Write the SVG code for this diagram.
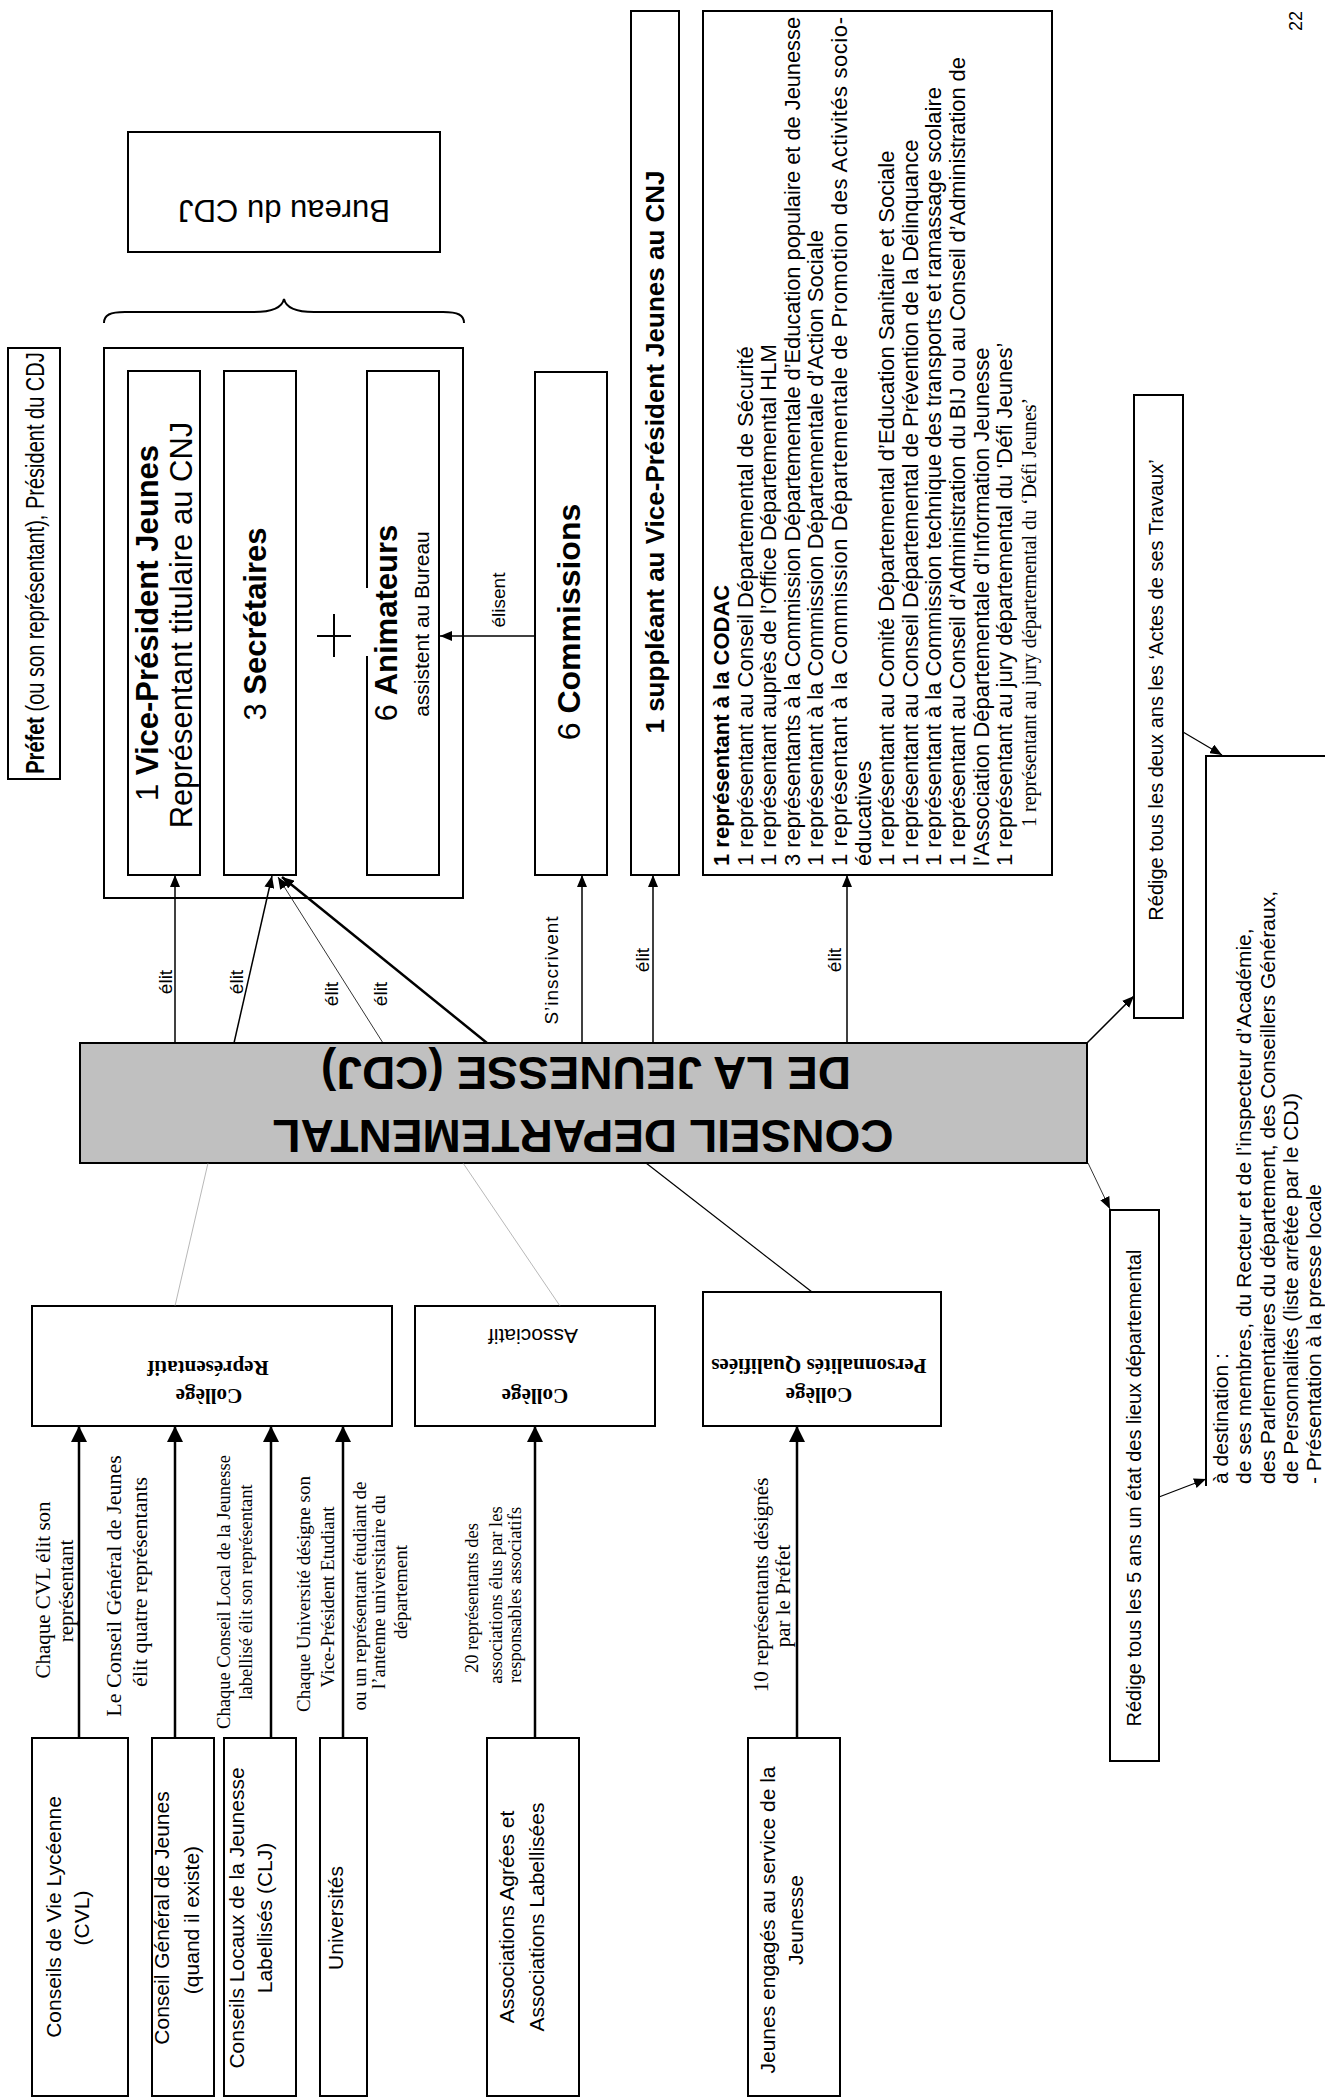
<svg xmlns="http://www.w3.org/2000/svg" width="1325" height="2098" viewBox="0 0 1325 2098">
<style>
.b{fill:#fff;stroke:#000;stroke-width:2}
.s{font-family:"Liberation Sans",Arial,sans-serif;fill:#000}
.t{font-family:"Liberation Serif","Times New Roman",serif;fill:#000}
.bd{font-weight:bold}
.c{text-anchor:middle}
.ln{stroke:#000;fill:none}
</style>
<defs>
<marker id="ah" viewBox="0 0 12 10" refX="12" refY="5" markerWidth="12" markerHeight="10" orient="auto" markerUnits="userSpaceOnUse"><path d="M0,0 L12,5 L0,10 z" fill="#000"/></marker>
<marker id="ahL" viewBox="0 0 16 16" refX="16" refY="8" markerWidth="16" markerHeight="16" orient="auto" markerUnits="userSpaceOnUse"><path d="M0,0 L16,8 L0,16 z" fill="#000"/></marker>
</defs>
<rect width="1325" height="2098" fill="#fff"/>

<g id="page-number"><text class="s c" font-size="18" transform="translate(1302,21) rotate(-90)">22</text></g>

<g id="prefet">
<rect class="b" x="8" y="348" width="52" height="431"/>
<text class="s c" font-size="26" transform="translate(44,563) rotate(-90) scale(0.77,1)"><tspan class="bd">Préfet</tspan> (ou son représentant), Président du CDJ</text>
</g>

<g id="bureau-label">
<rect class="b" x="128" y="132" width="312" height="120"/>
<text class="s c" font-size="31" transform="translate(284,200) rotate(180)">Bureau du CDJ</text>
</g>

<g id="brace"><path class="ln" stroke-width="2" d="M104,323 C104,315 110,312 125,312 L254,312 C270,312 282,308 284,299 C286,308 298,312 314,312 L443,312 C458,312 464,315 464,323"/></g>

<g id="bureau">
<rect class="b" x="104" y="348" width="359" height="550"/>
</g>
<g id="vice-president">
<rect class="b" x="128" y="371" width="72" height="504"/>
<text class="s c" font-size="31" transform="translate(158,623) rotate(-90)">1 <tspan class="bd">Vice-Président Jeunes</tspan></text>
<text class="s c" font-size="31" transform="translate(192,625) rotate(-90)">Représentant titulaire au CNJ</text>
</g>
<g id="secretaires">
<rect class="b" x="224" y="371" width="72" height="504"/>
<text class="s c" font-size="31" transform="translate(266,624) rotate(-90)">3 <tspan class="bd">Secrétaires</tspan></text>
</g>
<g id="plus"><path class="ln" stroke-width="2" d="M317,636 H351 M334,614 V657"/></g>
<g id="animateurs">
<rect class="b" x="367" y="371" width="72" height="504"/>
<line x1="367" y1="588" x2="367" y2="656" stroke="#fff" stroke-width="3"/>
<text class="s c" font-size="31" transform="translate(397,623) rotate(-90)">6 <tspan class="bd">Animateurs</tspan></text>
<text class="s c" font-size="21" transform="translate(429,624) rotate(-90)">assistent au Bureau</text>
</g>
<g id="commissions">
<rect class="b" x="535" y="372" width="72" height="503"/>
<text class="s c" font-size="32" transform="translate(580,622) rotate(-90)">6 <tspan class="bd">Commissions</tspan></text>
</g>
<g id="suppleant">
<rect class="b" x="631" y="11" width="48" height="864"/>
<text class="s c bd" font-size="26" transform="translate(664,452) rotate(-90)">1 suppléant au Vice-Président Jeunes au CNJ</text>
</g>
<g id="codac">
<rect class="b" x="703" y="11" width="349" height="864"/>
<g class="s" font-size="22">
<text class="bd" transform="translate(729,866) rotate(-90)">1 représentant à la CODAC</text>
<text transform="translate(752.6,866) rotate(-90)">1 représentant au Conseil Départemental de Sécurité</text>
<text transform="translate(776.2,866) rotate(-90)">1 représentant auprès de l’Office Départemental HLM</text>
<text transform="translate(799.8,866) rotate(-90)" textLength="849" lengthAdjust="spacingAndGlyphs">3 représentants à la Commission Départementale d’Education populaire et de Jeunesse</text>
<text transform="translate(823.4,866) rotate(-90)">1 représentant à la Commission Départementale d’Action Sociale</text>
<text transform="translate(847,866) rotate(-90)" textLength="849" lengthAdjust="spacing">1  représentant  à  la  Commission  Départementale  de  Promotion  des  Activités  socio-</text>
<text transform="translate(870.6,866) rotate(-90)">éducatives</text>
<text transform="translate(894.2,866) rotate(-90)">1 représentant au Comité Départemental d’Education Sanitaire et Sociale</text>
<text transform="translate(917.8,866) rotate(-90)">1 représentant au Conseil Départemental de Prévention de la Délinquance</text>
<text transform="translate(941.4,866) rotate(-90)">1 représentant à la Commission technique des transports et ramassage scolaire</text>
<text transform="translate(965,866) rotate(-90)" textLength="809" lengthAdjust="spacing">1 représentant au Conseil d’Administration du BIJ ou au Conseil d’Administration de</text>
<text transform="translate(988.6,866) rotate(-90)">l’Association Départementale d’Information Jeunesse</text>
<text transform="translate(1012.2,866) rotate(-90)">1 représentant au jury départemental du ‘Défi Jeunes’</text>
</g>
<text class="t" font-size="20" transform="translate(1035.8,827) rotate(-90)">1 représentant au jury départemental du ‘Défi Jeunes’</text>
</g>

<g id="cdj">
<rect x="80" y="1043" width="1007" height="120" fill="#c0c0c0" stroke="#000" stroke-width="2"/>
<text class="s c bd" font-size="46" transform="translate(586,1057) rotate(180)">DE LA JEUNESSE (CDJ)</text>
<text class="s c bd" font-size="46" transform="translate(583,1120) rotate(180)">CONSEIL DEPARTEMENTAL</text>
</g>

<g id="actes">
<rect class="b" x="1134" y="395" width="49" height="623"/>
<text class="s c" font-size="20" transform="translate(1163,690) rotate(-90)">Rédige tous les deux ans les ‘Actes de ses Travaux’</text>
</g>
<g id="etat-des-lieux">
<rect class="b" x="1110" y="1210" width="49" height="551"/>
<text class="s c" font-size="20" transform="translate(1141,1488) rotate(-90)">Rédige tous les 5 ans un état des lieux départemental</text>
</g>
<g id="destination">
<path class="ln" stroke-width="2" d="M1206,1486 V756 H1325"/>
<g class="s" font-size="21">
<text transform="translate(1228,1484) rotate(-90)">à destination :</text>
<text transform="translate(1251,1484) rotate(-90)">de ses membres,  du Recteur et de l’inspecteur d’Académie,</text>
<text transform="translate(1275,1484) rotate(-90)">des Parlementaires du département, des Conseillers Généraux,</text>
<text transform="translate(1298,1484) rotate(-90)">de Personnalités (liste arrêtée par le CDJ)</text>
<text transform="translate(1321,1484) rotate(-90)">- Présentation à la presse locale</text>
</g>
</g>

<g id="college-representatif">
<rect class="b" x="32" y="1306" width="360" height="120"/>
<text class="t c bd" font-size="21" transform="translate(209,1389) rotate(180)">Collège</text>
<text class="t c bd" font-size="21" transform="translate(208,1361) rotate(180)">Représentatif</text>
</g>
<g id="college-associatif">
<rect class="b" x="415" y="1306" width="240" height="120"/>
<text class="t c bd" font-size="21" transform="translate(535,1389) rotate(180)">Collège</text>
<text class="s c" font-size="21" transform="translate(533,1329) rotate(180)">Associatif</text>
</g>
<g id="college-personnalites">
<rect class="b" x="703" y="1292" width="238" height="134"/>
<text class="t c bd" font-size="21" transform="translate(819,1388) rotate(180)">Collège</text>
<text class="t c bd" font-size="21" transform="translate(819,1359) rotate(180)">Personnalités Qualifiées</text>
</g>

<g id="cvl">
<rect class="b" x="32" y="1738" width="96" height="358"/>
<text class="s c" font-size="21" transform="translate(61,1917) rotate(-90)">Conseils de Vie Lycéenne</text>
<text class="s c" font-size="21" transform="translate(89,1918) rotate(-90)">(CVL)</text>
</g>
<g id="cgj">
<rect class="b" x="152" y="1738" width="62" height="358"/>
<text class="s c" font-size="21" transform="translate(169,1918) rotate(-90)">Conseil Général de Jeunes</text>
<text class="s c" font-size="21" transform="translate(199,1920) rotate(-90)">(quand il existe)</text>
</g>
<g id="clj">
<rect class="b" x="224" y="1738" width="72" height="358"/>
<text class="s c" font-size="21" transform="translate(244,1918) rotate(-90)">Conseils Locaux de la Jeunesse</text>
<text class="s c" font-size="21" transform="translate(272,1918) rotate(-90)">Labellisés (CLJ)</text>
</g>
<g id="universites">
<rect class="b" x="320" y="1738" width="47" height="358"/>
<text class="s c" font-size="21" transform="translate(343,1918) rotate(-90)">Universités</text>
</g>
<g id="associations">
<rect class="b" x="487" y="1738" width="92" height="358"/>
<text class="s c" font-size="21" transform="translate(514,1917) rotate(-90)">Associations Agrées et</text>
<text class="s c" font-size="21" transform="translate(544,1917) rotate(-90)">Associations Labellisées</text>
</g>
<g id="jeunes">
<rect class="b" x="748" y="1738" width="92" height="358"/>
<text class="s c" font-size="21" transform="translate(775,1920) rotate(-90)">Jeunes engagés au service de la</text>
<text class="s c" font-size="21" transform="translate(803,1920) rotate(-90)">Jeunesse</text>
</g>

<g id="connectors">
<g class="ln" stroke-width="1.5">
<line x1="175" y1="1043" x2="175" y2="875" marker-end="url(#ah)"/>
<line x1="234" y1="1043" x2="272" y2="876" marker-end="url(#ah)"/>
<line x1="383" y1="1043" x2="278" y2="877" stroke-width="0.8" marker-end="url(#ah)"/>
<line x1="487" y1="1043" x2="282" y2="877" stroke-width="2.5" marker-end="url(#ah)"/>
<line x1="582" y1="1043" x2="582" y2="875" marker-end="url(#ah)"/>
<line x1="653" y1="1043" x2="653" y2="875" marker-end="url(#ah)"/>
<line x1="847" y1="1043" x2="847" y2="875" marker-end="url(#ah)"/>
<line x1="535" y1="636" x2="440" y2="636" marker-end="url(#ah)"/>
<line x1="1087" y1="1043" x2="1134" y2="996" marker-end="url(#ah)"/>
<line x1="1088" y1="1163" x2="1110" y2="1209" stroke-width="0.8" marker-end="url(#ah)"/>
<line x1="1183" y1="732" x2="1222" y2="755" stroke-width="1.2" marker-end="url(#ah)"/>
<line x1="1159" y1="1497" x2="1206" y2="1479" stroke-width="1.2" marker-end="url(#ah)"/>
</g>
<line x1="208" y1="1163" x2="175" y2="1306" stroke="#888" stroke-width="0.6"/>
<line x1="463" y1="1163" x2="560" y2="1306" stroke="#888" stroke-width="0.6"/>
<line x1="646" y1="1163" x2="812" y2="1292" stroke="#000" stroke-width="1.2"/>
<g class="ln" stroke-width="2.5">
<line x1="79" y1="1738" x2="79" y2="1426" marker-end="url(#ahL)"/>
<line x1="175" y1="1738" x2="175" y2="1426" marker-end="url(#ahL)"/>
<line x1="271" y1="1738" x2="271" y2="1426" marker-end="url(#ahL)"/>
<line x1="343" y1="1738" x2="343" y2="1426" marker-end="url(#ahL)"/>
<line x1="535" y1="1738" x2="535" y2="1426" marker-end="url(#ahL)"/>
<line x1="797" y1="1738" x2="797" y2="1426" marker-end="url(#ahL)"/>
</g>
<g class="s c" font-size="19">
<text transform="translate(505,600) rotate(-90)">élisent</text>
<text transform="translate(172,982) rotate(-90)">élit</text>
<text transform="translate(243,982) rotate(-90)">élit</text>
<text transform="translate(338,994) rotate(-90)">élit</text>
<text transform="translate(387,994) rotate(-90)">élit</text>
<text transform="translate(558,970) rotate(-90)" letter-spacing="1">S’inscrivent</text>
<text transform="translate(649,960) rotate(-90)">élit</text>
<text transform="translate(841,960) rotate(-90)">élit</text>
</g>
<g class="t c">
<text font-size="21" transform="translate(50,1590) rotate(-90)">Chaque CVL élit son</text>
<text font-size="21" transform="translate(73,1591) rotate(-90)">représentant</text>
<text font-size="22" transform="translate(121,1586) rotate(-90)">Le Conseil Général de Jeunes</text>
<text font-size="22" transform="translate(147,1582) rotate(-90)">élit quatre représentants</text>
<text font-size="18.5" transform="translate(230,1592) rotate(-90)">Chaque Conseil Local de la Jeunesse</text>
<text font-size="18.5" transform="translate(252,1592) rotate(-90)">labellisé élit son représentant</text>
<text font-size="19" transform="translate(310,1594) rotate(-90)">Chaque Université désigne son</text>
<text font-size="19" transform="translate(334,1597) rotate(-90)">Vice-Président Etudiant</text>
<text font-size="19" transform="translate(366,1596) rotate(-90)">ou un représentant étudiant  de</text>
<text font-size="19" transform="translate(385,1592) rotate(-90)">l’antenne universitaire du</text>
<text font-size="19" transform="translate(407,1592) rotate(-90)">département</text>
<text font-size="18.5" transform="translate(478,1598) rotate(-90)">20 représentants des</text>
<text font-size="18.5" transform="translate(502,1595) rotate(-90)">associations élus par les</text>
<text font-size="18.5" transform="translate(521,1595) rotate(-90)">responsables associatifs</text>
<text font-size="21" transform="translate(768,1585) rotate(-90)">10 représentants désignés</text>
<text font-size="21" transform="translate(790,1596) rotate(-90)">par le Préfet</text>
</g>
</g>
</svg>
